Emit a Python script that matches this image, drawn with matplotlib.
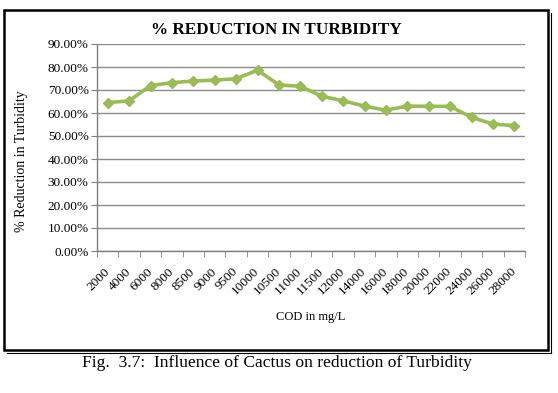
import matplotlib
matplotlib.use("Agg")
import matplotlib.pyplot as plt
from matplotlib.patches import Rectangle
from matplotlib.lines import Line2D
from matplotlib.ticker import FixedLocator, FuncFormatter
import numpy as np

categories = ["2000", "4000", "6000", "8000", "8500", "9000", "9500", "10000", "10500",
              "11000", "11500", "12000", "14000", "16000", "18000", "20000", "22000",
              "24000", "26000", "28000"]
reduction = [0.645, 0.653, 0.719, 0.732, 0.739, 0.743, 0.749, 0.786, 0.722,
             0.716, 0.673, 0.653, 0.630, 0.612, 0.630, 0.629, 0.629,
             0.581, 0.552, 0.545]
yticks = [0.0, 0.1, 0.2, 0.3, 0.4, 0.5, 0.6, 0.7, 0.8, 0.9]

plt.rcParams['font.family'] = ['Liberation Serif', 'DejaVu Serif']

W, H = 558, 393
fig = plt.figure(figsize=(W / 100, H / 100), dpi=100)
fig.patch.set_facecolor("white")

# outer frame with double line on right/bottom
fig.add_artist(Rectangle((4 / W, 1 - 350 / H), 544 / W, 340 / H, transform=fig.transFigure,
                         fill=False, edgecolor="black", linewidth=1.8))
fig.add_artist(Line2D([7 / W, 551 / W], [1 - 353 / H, 1 - 353 / H], transform=fig.transFigure,
                      color="black", linewidth=0.8))
fig.add_artist(Line2D([551 / W, 551 / W], [1 - 353 / H, 1 - 13 / H], transform=fig.transFigure,
                      color="black", linewidth=0.8))

ax = fig.add_axes([97 / W, 1 - 251 / H, 428 / W, 207 / H])
x = np.arange(len(categories))
ax.plot(x, reduction, color="#9BBB59", linewidth=2.6, marker="D", markersize=5.5,
        markerfacecolor="#9BBB59", markeredgecolor="#9BBB59", zorder=3)

ax.set_xlim(-0.5, len(categories) - 0.5)
ax.set_ylim(0, 0.9)
ax.yaxis.set_major_locator(FixedLocator(yticks))
ax.yaxis.set_major_formatter(FuncFormatter(lambda v, p: f"{v * 100:.2f}%"))
ax.grid(axis="y", color="#8c8c8c", linewidth=1.0)
ax.set_axisbelow(True)

ax.set_xticks(x)
ax.set_xticklabels(categories, rotation=45, ha="right", va="center", rotation_mode="anchor",
                   fontsize=9.5)
ax.set_xticks(np.arange(len(categories) + 1) - 0.5, minor=True)
ax.tick_params(axis="x", which="major", length=0, pad=13.5)
ax.tick_params(axis="x", which="minor", length=4, color="#808080", direction="out")
ax.tick_params(axis="y", length=4, color="#808080", labelsize=9.5, labelcolor="black", pad=2)

for s in ["top", "right"]:
    ax.spines[s].set_visible(False)
for s in ["left", "bottom"]:
    ax.spines[s].set_color("#808080")
    ax.spines[s].set_linewidth(1.0)

fig.text(276 / W, 1 - 30 / H, "% REDUCTION IN TURBIDITY", ha="center", va="center",
         fontsize=12.3, fontweight="bold")
fig.text(22 / W, 1 - 161 / H, "% Reduction in Turbidity", ha="center", va="center",
         rotation=90, fontsize=10)
fig.text(311 / W, 1 - 317 / H, "COD in mg/L", ha="center", va="center", fontsize=9)
fig.text(277 / W, 1 - 363 / H, "Fig.  3.7:  Influence of Cactus on reduction of Turbidity",
         ha="center", va="center", fontsize=12.6)

fig.savefig("out.png", dpi=100, facecolor="white")
